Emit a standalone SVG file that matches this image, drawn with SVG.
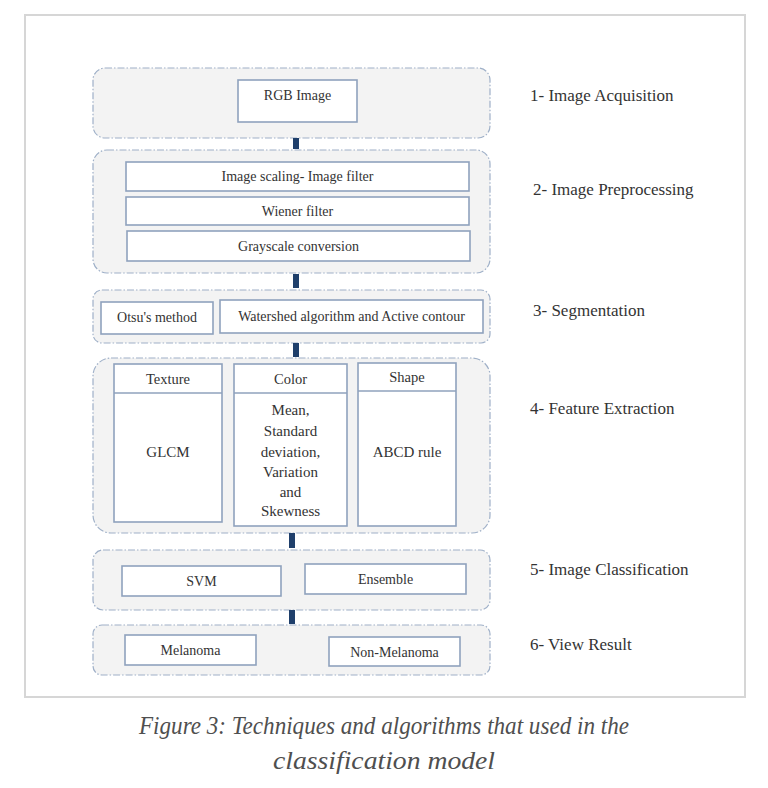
<svg xmlns="http://www.w3.org/2000/svg" width="768" height="788" viewBox="0 0 768 788">
<style>
.stage{fill:#f3f3f3;stroke:#9fb0c8;stroke-width:1.2;stroke-dasharray:7 2 1.5 2}
.box{fill:#ffffff;stroke:#8fa2bd;stroke-width:1.6}
.t{font-family:"Liberation Serif","Times New Roman",serif;fill:#333;text-anchor:middle}
.s{font-size:14px}
.h{font-size:14.5px}
.m{font-size:15px}
.lab{font-family:"Liberation Serif","Times New Roman",serif;font-size:17px;fill:#333}
.cap{font-family:"Liberation Serif","Times New Roman",serif;font-style:italic;font-size:25px;fill:#4f4f4f;text-anchor:middle}
.con{fill:#1f3f6b}
</style>
<rect x="0" y="0" width="768" height="788" fill="#ffffff"/>
<rect x="25" y="15" width="720" height="682" fill="#ffffff" stroke="#d6d6d6" stroke-width="2"/>

<g id="stage1">
<rect class="stage" x="93" y="68" width="397" height="70" rx="12"/>
<g id="rgb"><rect class="box" x="238" y="80" width="119" height="42"/><text class="t s" x="297.5" y="100">RGB Image</text></g>
</g>

<g id="stage2">
<rect class="stage" x="93" y="150" width="397" height="123" rx="14"/>
<g id="scaling"><rect class="box" x="126" y="162" width="343" height="29"/><text class="t s" x="297.5" y="181">Image scaling- Image filter</text></g>
<g id="wiener"><rect class="box" x="126" y="197" width="343" height="28"/><text class="t s" x="297.5" y="216">Wiener filter</text></g>
<g id="gray"><rect class="box" x="127" y="231" width="343" height="30"/><text class="t s" x="298.5" y="251">Grayscale conversion</text></g>
</g>

<g id="stage3">
<rect class="stage" x="93" y="290" width="397" height="53" rx="9"/>
<g id="otsu"><rect class="box" x="101" y="302" width="112" height="32"/><text class="t s" x="157" y="322">Otsu's method</text></g>
<g id="watershed"><rect class="box" x="220" y="300" width="263" height="33"/><text class="t s" x="351.5" y="321">Watershed algorithm and Active contour</text></g>
</g>

<g id="stage4">
<rect class="stage" x="93" y="358" width="397" height="175" rx="18"/>
<g id="texture"><rect class="box" x="114" y="364" width="108" height="158"/><line x1="114" y1="393" x2="222" y2="393" stroke="#8fa2bd" stroke-width="1.6"/><text class="t h" x="168" y="384">Texture</text><text class="t m" x="168" y="457">GLCM</text></g>
<g id="color"><rect class="box" x="234" y="364" width="113" height="162"/><line x1="234" y1="393" x2="347" y2="393" stroke="#8fa2bd" stroke-width="1.6"/><text class="t h" x="290.5" y="384">Color</text>
<text class="t m" x="290.5" y="415">Mean,</text><text class="t m" x="290.5" y="436">Standard</text><text class="t m" x="290.5" y="457">deviation,</text><text class="t m" x="290.5" y="477">Variation</text><text class="t m" x="290.5" y="497">and</text><text class="t m" x="290.5" y="516">Skewness</text></g>
<g id="shape"><rect class="box" x="358" y="363" width="98" height="163"/><line x1="358" y1="391" x2="456" y2="391" stroke="#8fa2bd" stroke-width="1.6"/><text class="t h" x="407" y="382">Shape</text><text class="t m" x="407" y="457">ABCD rule</text></g>
</g>

<g id="stage5">
<rect class="stage" x="93" y="550" width="397" height="60" rx="10"/>
<g id="svm"><rect class="box" x="122" y="566" width="159" height="30"/><text class="t s" x="201.5" y="586">SVM</text></g>
<g id="ensemble"><rect class="box" x="305" y="564" width="161" height="30"/><text class="t s" x="385.5" y="584">Ensemble</text></g>
</g>

<g id="stage6">
<rect class="stage" x="93" y="625" width="397" height="50" rx="9"/>
<g id="melanoma"><rect class="box" x="125" y="635" width="131" height="30"/><text class="t s" x="190.5" y="655">Melanoma</text></g>
<g id="nonmelanoma"><rect class="box" x="329" y="637" width="131" height="29"/><text class="t s" x="394.5" y="657">Non-Melanoma</text></g>
</g>

<g id="connectors">
<rect class="con" x="293" y="138" width="6" height="11"/>
<rect class="con" x="293" y="274" width="6" height="14"/>
<rect class="con" x="293" y="343" width="6" height="14"/>
<rect class="con" x="289" y="533" width="6" height="15"/>
<rect class="con" x="289" y="610" width="6" height="14"/>
</g>

<g id="labels">
<text class="lab" x="530" y="101">1- Image Acquisition</text>
<text class="lab" x="533" y="195">2- Image Preprocessing</text>
<text class="lab" x="533" y="316">3- Segmentation</text>
<text class="lab" x="530" y="414">4- Feature Extraction</text>
<text class="lab" x="530" y="575">5- Image Classification</text>
<text class="lab" x="530" y="650">6- View Result</text>
</g>

<g id="caption">
<text class="cap" x="384" y="734" textLength="490" lengthAdjust="spacingAndGlyphs">Figure 3: Techniques and algorithms that used in the</text>
<text class="cap" x="384" y="769" textLength="222" lengthAdjust="spacingAndGlyphs">classification  model</text>
</g>
</svg>
